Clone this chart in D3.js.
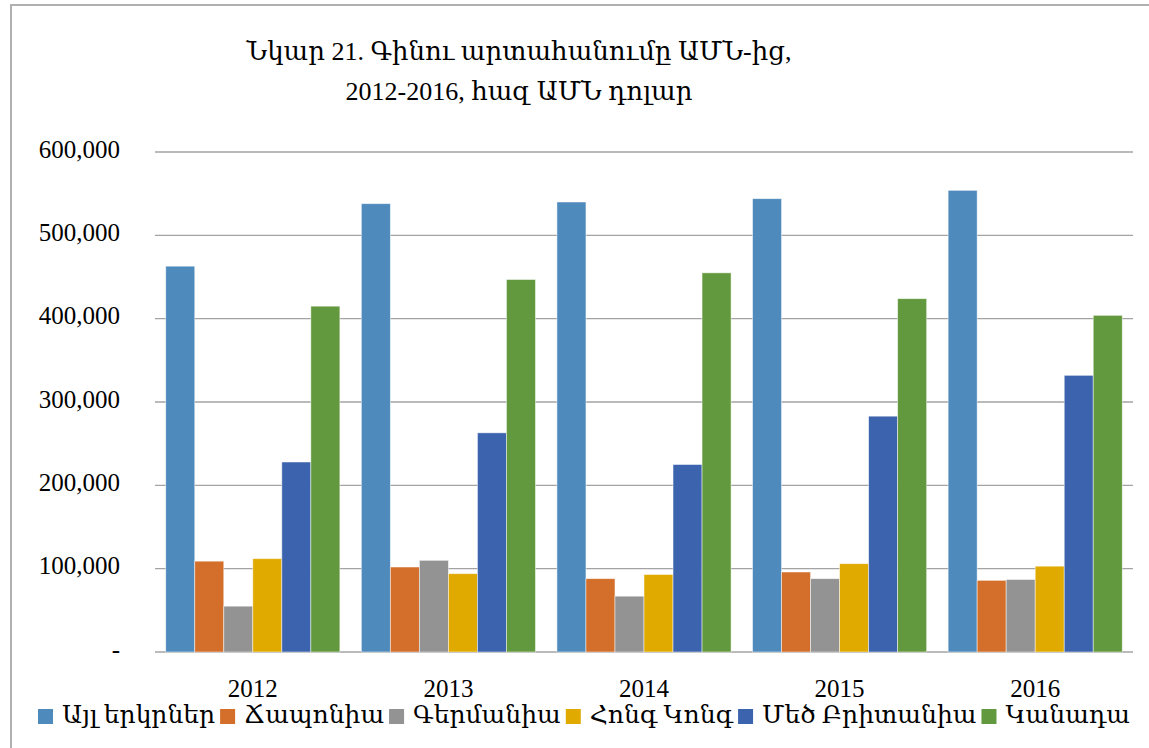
<!DOCTYPE html>
<html>
<head>
<meta charset="utf-8">
<script src="https://cdn.jsdelivr.net/npm/d3@7"></script>
<style>
  body { margin: 0; background: #fff; }
  svg text { font-family: "Liberation Serif", "DejaVu Serif", serif; fill: #000; }
</style>
</head>
<body>
<div id="chart"></div>
<script>
// data
const years = ["2012", "2013", "2014", "2015", "2016"];
const seriesNames = ["Այլ երկրներ", "Ճապոնիա", "Գերմանիա", "Հոնգ Կոնգ", "Մեծ Բրիտանիա", "Կանադա"];
const otherCountries = [463000, 538000, 540000, 544000, 554000];
const japan = [109000, 102000, 88000, 96000, 86000];
const germany = [55000, 110000, 67000, 88000, 87000];
const hongKong = [112000, 94000, 93000, 106000, 103000];
const britain = [228000, 263000, 225000, 283000, 332000];
const canada = [415000, 447000, 455000, 424000, 404000];
const yTicks = [0, 100000, 200000, 300000, 400000, 500000, 600000];
const titleLines = ["Նկար 21. Գինու արտահանումը ԱՄՆ-ից,", "2012-2016, հազ ԱՄՆ դոլար"];

const colors = ["#4f8abd", "#d36f2b", "#939393", "#e0aa00", "#3c64ae", "#63993e"];
const allSeries = [otherCountries, japan, germany, hongKong, britain, canada];

const width = 1149, height = 748;
const svg = d3.select("#chart").append("svg")
    .attr("width", width)
    .attr("height", height);

// outer frame (cropped on right and bottom)
svg.append("path")
    .attr("d", `M11,${height} L11,5 L${width},5`)
    .attr("fill", "none")
    .attr("stroke", "#b0b0b0")
    .attr("stroke-width", 2);

// title
svg.selectAll("text.title")
    .data(titleLines)
    .enter().append("text")
    .attr("class", "title")
    .attr("x", 519)
    .attr("y", (d, i) => 60 + i * 40)
    .attr("text-anchor", "middle")
    .style("font-size", "26px")
    .text(d => d);

const plot = {left: 155, right: 1133, top: 152, bottom: 652};

const y = d3.scaleLinear()
    .domain([0, 600000])
    .range([plot.bottom, plot.top]);

const x0 = d3.scaleBand()
    .domain(years)
    .range([plot.left, plot.right])
    .padding(0);

const x1 = d3.scaleBand()
    .domain(d3.range(seriesNames.length))
    .range([0, x0.bandwidth()])
    .paddingInner(0)
    .paddingOuter(0.37);

// gridlines
svg.append("g")
    .selectAll("line")
    .data(yTicks)
    .enter().append("line")
    .attr("x1", plot.left)
    .attr("x2", plot.right)
    .attr("y1", d => y(d))
    .attr("y2", d => y(d))
    .attr("stroke", "#a3a3a3")
    .attr("stroke-width", 1.4);

// y axis labels
const yAxis = svg.append("g")
    .attr("transform", `translate(${plot.left},0)`)
    .call(d3.axisLeft(y).tickValues(yTicks).tickSize(0).tickPadding(35)
        .tickFormat(d => d === 0 ? "-" : d3.format(",")(d)));
yAxis.select(".domain").remove();
yAxis.selectAll("text")
    .attr("dy", "0.2em")
    .style("font-size", "25px");

// bars
const groups = svg.append("g")
    .selectAll("g")
    .data(years)
    .enter().append("g")
    .attr("transform", d => `translate(${x0(d)},0)`);

groups.selectAll("rect")
    .data((yr, yi) => allSeries.map((s, si) => ({si: si, v: s[yi]})))
    .enter().append("rect")
    .attr("x", d => x1(d.si))
    .attr("y", d => y(d.v))
    .attr("width", x1.bandwidth())
    .attr("height", d => y(0) - y(d.v))
    .attr("fill", d => colors[d.si])
    .attr("stroke", "#fff")
    .attr("stroke-opacity", 0.6)
    .attr("stroke-width", 0.8);

// x axis
const xAxis = svg.append("g")
    .attr("transform", `translate(0,${plot.bottom})`)
    .call(d3.axisBottom(x0).tickSize(0).tickPadding(27));
xAxis.select(".domain").remove();
xAxis.selectAll("text").style("font-size", "25px");

// legend spread across the bottom
const legend = svg.append("g");
const items = legend.selectAll("g")
    .data(seriesNames)
    .enter().append("g");
items.append("rect")
    .attr("y", 709)
    .attr("width", 15)
    .attr("height", 15)
    .attr("fill", (d, i) => colors[i]);
items.append("text")
    .attr("x", 24)
    .attr("y", 723)
    .style("font-size", "25px")
    .text(d => d);

const itemW = [];
items.each(function() {
    itemW.push(24 + d3.select(this).select("text").node().getComputedTextLength());
});
const legStart = 38, legEnd = 1130;
const gap = (legEnd - legStart - d3.sum(itemW)) / (itemW.length - 1);
let cx = legStart;
items.attr("transform", (d, i) => {
    const t = `translate(${cx},0)`;
    cx += itemW[i] + gap;
    return t;
});
</script>
</body>
</html>
